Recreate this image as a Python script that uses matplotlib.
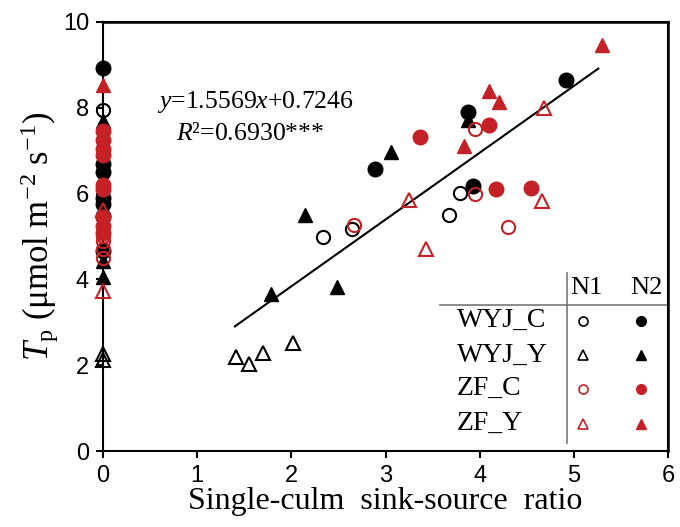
import matplotlib
matplotlib.use('Agg')
import matplotlib.pyplot as plt

plt.rcParams['mathtext.fontset'] = 'custom'
plt.rcParams['mathtext.rm'] = 'Liberation Serif'
plt.rcParams['mathtext.it'] = 'Liberation Serif:italic'
plt.rcParams['axes.spines.top'] = True
plt.rcParams['axes.spines.right'] = True

RED = '#C42127'
SERIF = 'Liberation Serif'
SANS = 'Liberation Sans'

# WYJ_C
wyjc_n1_x = [0, 2.34, 2.64, 3.67, 3.79]
wyjc_n1_y = [7.95, 4.99, 5.18, 5.49, 6.02]
wyjc_n2_x = [0, 0, 0, 0, 0, 0, 0, 2.89, 3.88, 3.93, 4.92]
wyjc_n2_y = [8.92, 6.70, 6.50, 5.90, 5.75, 5.48, 4.66, 6.57, 7.91, 6.17, 8.65]
# WYJ_Y
wyjy_n1_x = [0, 0, 1.41, 1.55, 1.70, 2.02]
wyjy_n1_y = [2.27, 2.11, 2.20, 2.03, 2.28, 2.52]
wyjy_n2_x = [0, 0, 0, 0, 1.78, 2.15, 2.48, 3.06, 3.88]
wyjy_n2_y = [7.70, 5.55, 4.43, 4.06, 3.67, 5.51, 3.83, 6.96, 7.72]
# ZF_C
zfc_n1_x = [0, 0, 0, 0, 2.67, 3.95, 3.95, 4.30]
zfc_n1_y = [5.00, 4.90, 4.70, 4.50, 5.26, 7.50, 6.00, 5.23]
zfc_n2_x = [0, 0, 0, 0, 0, 0, 0, 0, 0, 3.37, 4.10, 4.17, 4.55]
zfc_n2_y = [7.45, 7.25, 7.05, 6.90, 6.20, 6.10, 5.45, 5.25, 5.08, 7.33, 7.59, 6.10, 6.13]
# ZF_Y
zfy_n1_x = [0, 0, 3.25, 3.43, 4.66, 4.68]
zfy_n1_y = [5.62, 3.74, 5.84, 4.71, 5.82, 7.99]
zfy_n2_x = [0, 3.83, 4.10, 4.20, 5.30]
zfy_n2_y = [8.53, 7.10, 8.38, 8.13, 9.46]

# fit
slope, intercept = 1.5569, 0.7246
fit_x = [1.4, 5.26]

groups = ['WYJ_C', 'WYJ_Y', 'ZF_C', 'ZF_Y']
series = [
    (wyjc_n1_x, wyjc_n1_y, wyjc_n2_x, wyjc_n2_y, 'o', 'black'),
    (wyjy_n1_x, wyjy_n1_y, wyjy_n2_x, wyjy_n2_y, '^', 'black'),
    (zfc_n1_x, zfc_n1_y, zfc_n2_x, zfc_n2_y, 'o', RED),
    (zfy_n1_x, zfy_n1_y, zfy_n2_x, zfy_n2_y, '^', RED),
]

fig = plt.figure(figsize=(6.8, 5.27), dpi=100)
ax = fig.add_axes([103/680, 76/527, 565/680, 429/527])

for x1, y1, x2, y2, m, c in series:
    ax.plot(x2, y2, ls='none', marker=m, ms=10.5, color=c, mec=c, clip_on=False, zorder=3)
    ax.plot(x1, y1, ls='none', marker=m, ms=9.5, mfc='none', mec=c, mew=1.5, clip_on=False, zorder=4)

ax.plot(fit_x, [slope * v + intercept for v in fit_x], color='black', lw=1.5, zorder=2)

ax.text(0.095, 0.80, r'$y$=1.5569$x$+0.7246', transform=ax.transAxes,
        fontsize=18.5, family=SERIF)
ax.text(0.13, 0.725, r'$R$²=0.6930***', transform=ax.transAxes,
        fontsize=18.5, family=SERIF)

ax.set_xlim(0, 6)
ax.set_ylim(0, 10)
ax.set_xticks(range(0, 7))
ax.set_yticks(range(0, 11, 2))
for s in ax.spines.values():
    s.set_visible(True)
    s.set_linewidth(1.5)
    s.set_color('black')
# top and right edges of the box
ax.axhline(10, color='black', lw=1.8, clip_on=False, zorder=2.6)
ax.axvline(6, color='black', lw=1.8, clip_on=False, zorder=2.6)
ax.tick_params(direction='out', length=5, width=1.5, labelsize=17, pad=5)
for lab in ax.get_xticklabels() + ax.get_yticklabels():
    lab.set_family(SANS)

ax.set_xlabel('Single-culm  sink-source  ratio', fontsize=23, family=SERIF, labelpad=0)
ax.set_ylabel(r'$T_{\rm p}$ (μmol m$^{-2}$ s$^{-1}$)', fontsize=25, family=SERIF, labelpad=1)

# table-like legend
tr = ax.transAxes
ax.plot([0.597, 1.0], [0.340, 0.340], color='#777777', lw=1.2, transform=tr, clip_on=False)
ax.plot([0.821, 0.821], [0.019, 0.416], color='#777777', lw=1.2, transform=tr, clip_on=False)
ax.text(0.856, 0.381, 'N1', transform=tr, ha='center', va='center', fontsize=19, family=SERIF)
ax.text(0.962, 0.381, 'N2', transform=tr, ha='center', va='center', fontsize=19, family=SERIF)
row_y = [0.304, 0.223, 0.145, 0.064]
for (x1, y1, x2, y2, m, c), g, ry in zip(series, groups, row_y):
    ax.text(0.626, ry, g, transform=tr, ha='left', va='center', fontsize=20, family=SERIF)
    ax.plot([0.850], [ry], marker=m, ms=6.5, mfc='none', mec=c, mew=1.2, transform=tr)
    ax.plot([0.953], [ry], marker=m, ms=7, color=c, transform=tr)

fig.savefig('out.png', dpi=100)
